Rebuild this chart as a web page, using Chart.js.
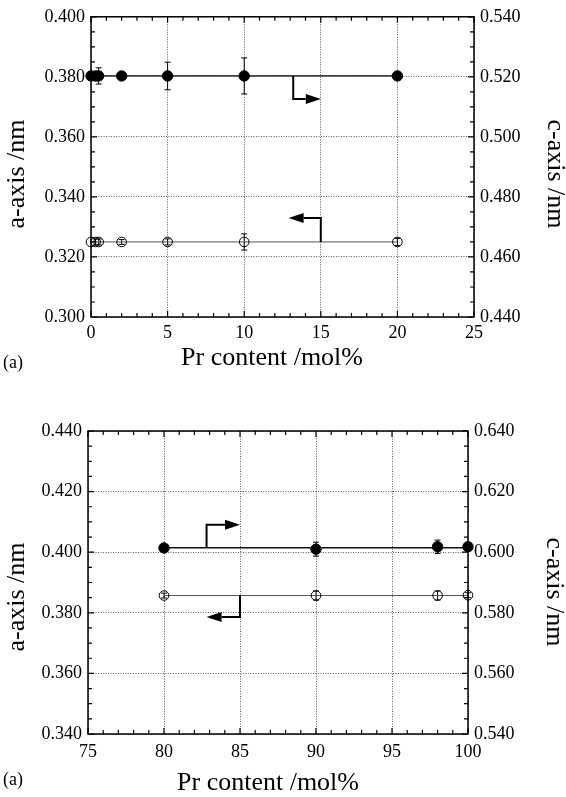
<!DOCTYPE html>
<html>
<head>
<meta charset="utf-8">
<script src="https://cdn.jsdelivr.net/npm/chart.js@4/dist/chart.umd.min.js"></script>
<style>
  html, body { margin: 0; padding: 0; background: #fff; }
  #wrap { position: relative; width: 566px; height: 797px; overflow: hidden; background: #fff; }
  canvas { position: absolute; left: 0; }
  #low { top: 0; }
  #high { top: 400px; }
</style>
</head>
<body>
<div id="wrap">
  <canvas id="low" width="566" height="400"></canvas>
  <canvas id="high" width="566" height="397"></canvas>
</div>
<script>
// ---- Pr-poor side: 0–20 mol% ----
const lowPr    = [0, 0.3, 0.5, 2, 5, 10, 20];
const lowC     = [0.5203, 0.5203, 0.5203, 0.5203, 0.5203, 0.5203, 0.5203];
const lowCErr  = [0, 0, 0.0027, 0, 0.0046, 0.006, 0];
const lowA     = [0.325, 0.325, 0.325, 0.325, 0.325, 0.325, 0.325];
const lowAErr  = [0, 0.001, 0.001, 0.0008, 0.001, 0.0027, 0.0012];
const lowFitX  = [0, 20];
const lowCFit  = [0.5203, 0.5203];
const lowAFit  = [0.325, 0.325];
const lowXTicks  = [0, 5, 10, 15, 20, 25];
const lowATicks  = [0.300, 0.320, 0.340, 0.360, 0.380, 0.400];
const lowCTicks  = [0.440, 0.460, 0.480, 0.500, 0.520, 0.540];
// L-shaped pointers telling which axis each series belongs to
const lowCArrowX = [13.2, 13.2, 15];
const lowCArrowY = [0.5203, 0.5126, 0.5126];
const lowAArrowX = [15, 15, 12.9];
const lowAArrowY = [0.325, 0.333, 0.333];

// ---- Pr-rich side: 80–100 mol% ----
const highPr    = [80, 90, 98, 100];
const highC     = [0.6014, 0.6010, 0.6018, 0.6018];
const highCErr  = [0, 0.0023, 0.0022, 0];
const highA     = [0.3857, 0.3857, 0.3857, 0.3858];
const highAErr  = [0.0008, 0.0015, 0.0015, 0.0008];
const highFitX  = [80, 100];
const highCFit  = [0.6015, 0.6015];
const highAFit  = [0.3857, 0.3857];
const highXTicks = [75, 80, 85, 90, 95, 100];
const highATicks = [0.340, 0.360, 0.380, 0.400, 0.420, 0.440];
const highCTicks = [0.540, 0.560, 0.580, 0.600, 0.620, 0.640];
const highCArrowX = [82.8, 82.8, 85];
const highCArrowY = [0.6014, 0.6091, 0.6091];
const highAArrowX = [85, 85, 82.8];
const highAArrowY = [0.3857, 0.3786, 0.3786];

const SERIF = "'Liberation Serif', 'DejaVu Serif', serif";
const tickFont = { family: SERIF, size: 18 };

const pts = (xs, ys) => xs.map((x, i) => ({ x, y: ys[i] }));

// Frame, inward ticks, error bars, axis pointers and titles
const figurePlugin = {
  id: 'figure',
  beforeDatasetsDraw(chart, args, o) {
    const ctx = chart.ctx;
    chart.data.datasets.forEach((ds, i) => {
      if (!ds.errors) return;
      const meta = chart.getDatasetMeta(i);
      const ys = chart.scales[ds.yAxisID];
      ctx.save();
      ctx.strokeStyle = '#000';
      ctx.lineWidth = 1;
      meta.data.forEach((pt, j) => {
        const e = ds.errors[j];
        if (!e) return;
        const v = ds.data[j].y;
        const y1 = ys.getPixelForValue(v + e);
        const y2 = ys.getPixelForValue(v - e);
        ctx.beginPath();
        ctx.moveTo(pt.x, y1); ctx.lineTo(pt.x, y2);
        ctx.moveTo(pt.x - 3, y1); ctx.lineTo(pt.x + 3, y1);
        ctx.moveTo(pt.x - 3, y2); ctx.lineTo(pt.x + 3, y2);
        ctx.stroke();
      });
      ctx.restore();
    });
  },
  afterDraw(chart, args, o) {
    const ctx = chart.ctx;
    const a = chart.chartArea;
    const xs = chart.scales.x, yl = chart.scales.y;
    ctx.save();
    // inward tick marks
    ctx.strokeStyle = '#000';
    ctx.lineWidth = 1.2;
    ctx.beginPath();
    const xStep = o.xMinor, yStep = o.yMinor;
    const nx = Math.round((xs.max - xs.min) / xStep);
    for (let k = 0; k <= nx; k++) {
      const v = xs.min + k * xStep;
      const len = (k % o.xMajorEvery === 0) ? 6 : 4;
      const px = xs.getPixelForValue(v);
      ctx.moveTo(px, a.bottom); ctx.lineTo(px, a.bottom - len);
      ctx.moveTo(px, a.top); ctx.lineTo(px, a.top + len);
    }
    const ny = Math.round((yl.max - yl.min) / yStep);
    for (let k = 0; k <= ny; k++) {
      const v = yl.min + k * yStep;
      const len = (k % o.yMajorEvery === 0) ? 6 : 4;
      const py = yl.getPixelForValue(v);
      ctx.moveTo(a.left, py); ctx.lineTo(a.left + len, py);
      ctx.moveTo(a.right, py); ctx.lineTo(a.right - len, py);
    }
    ctx.stroke();
    // frame
    ctx.lineWidth = 1.5;
    ctx.strokeRect(a.left, a.top, a.right - a.left, a.bottom - a.top);

    // L-shaped pointers with arrow heads
    o.arrows.forEach(ar => {
      const ys = chart.scales[ar.axis];
      const P = ar.xs.map((x, i) => [xs.getPixelForValue(x), ys.getPixelForValue(ar.ys[i])]);
      const n = P.length;
      const [tx, ty] = P[n - 1];
      const [bx, by] = P[n - 2];
      const dx = tx - bx, dy = ty - by;
      const L = Math.hypot(dx, dy), ux = dx / L, uy = dy / L;
      const hl = 15, hw = 5;
      const baseX = tx - ux * hl, baseY = ty - uy * hl;
      ctx.strokeStyle = '#000';
      ctx.lineWidth = 2;
      ctx.beginPath();
      ctx.moveTo(P[0][0], P[0][1]);
      for (let i = 1; i < n - 1; i++) ctx.lineTo(P[i][0], P[i][1]);
      ctx.lineTo(baseX, baseY);
      ctx.stroke();
      ctx.fillStyle = '#000';
      ctx.beginPath();
      ctx.moveTo(tx, ty);
      ctx.lineTo(baseX - uy * hw, baseY + ux * hw);
      ctx.lineTo(baseX + uy * hw, baseY - ux * hw);
      ctx.closePath();
      ctx.fill();
    });

    // axis titles and panel tag
    ctx.fillStyle = '#000';
    ctx.textBaseline = 'middle';
    ctx.font = `26px ${SERIF}`;
    ctx.textAlign = 'center';
    ctx.fillText(o.xTitle.text, o.xTitle.x, o.xTitle.y);
    ctx.save();
    ctx.translate(o.yTitle.x, o.yTitle.y);
    ctx.rotate(-Math.PI / 2);
    ctx.fillText(o.yTitle.text, 0, 0);
    ctx.restore();
    ctx.save();
    ctx.translate(o.y2Title.x, o.y2Title.y);
    ctx.rotate(Math.PI / 2);
    ctx.fillText(o.y2Title.text, 0, 0);
    ctx.restore();
    ctx.font = `18px ${SERIF}`;
    ctx.textAlign = 'left';
    ctx.fillText(o.tag.text, o.tag.x, o.tag.y);
    ctx.restore();
  }
};

function makeChart(id, cfg) {
  const gridStyle = { color: '#333', lineWidth: 0.8, drawTicks: false };
  const border = { display: false, dash: [1, 1.5] };
  return new Chart(document.getElementById(id), {
    type: 'scatter',
    data: {
      datasets: [
        {
          label: 'c', data: pts(cfg.x, cfg.c), errors: cfg.cErr, yAxisID: 'y2',
          showLine: false, pointStyle: 'circle', pointRadius: 5.2,
          pointBackgroundColor: '#000', pointBorderColor: '#000', pointBorderWidth: 1, clip: false
        },
        {
          label: 'a', data: pts(cfg.x, cfg.a), errors: cfg.aErr, yAxisID: 'y',
          showLine: false, pointStyle: 'circle', pointRadius: 4.8,
          pointBackgroundColor: 'rgba(0,0,0,0)', pointBorderColor: '#000', pointBorderWidth: 1, clip: false
        },
        {
          label: 'c fit', data: pts(cfg.fitX, cfg.cFit), yAxisID: 'y2', showLine: true,
          pointRadius: 0, borderColor: cfg.cLineColor, borderWidth: cfg.cLineWidth, clip: false
        },
        {
          label: 'a fit', data: pts(cfg.fitX, cfg.aFit), yAxisID: 'y', showLine: true,
          pointRadius: 0, borderColor: '#555', borderWidth: 1, clip: false
        }
      ]
    },
    options: {
      responsive: false,
      animation: false,
      devicePixelRatio: 1,
      layout: { padding: { top: cfg.top, left: 0, right: 0, bottom: 0 } },
      plugins: {
        legend: { display: false },
        tooltip: { enabled: false },
        figure: {
          xMinor: 1, xMajorEvery: 5, yMinor: 0.005, yMajorEvery: 4,
          arrows: cfg.arrows,
          xTitle: cfg.xTitle, yTitle: cfg.yTitle, y2Title: cfg.y2Title, tag: cfg.tag
        }
      },
      scales: {
        x: {
          type: 'linear', min: cfg.xTicks[0], max: cfg.xTicks[cfg.xTicks.length - 1],
          afterBuildTicks: s => { s.ticks = cfg.xTicks.map(v => ({ value: v })); },
          afterFit: s => { s.height = cfg.xHeight; },
          grid: gridStyle, border,
          ticks: { font: tickFont, color: '#000', padding: cfg.xPad, maxRotation: 0, autoSkip: false,
                   callback: v => String(v) }
        },
        y: {
          type: 'linear', position: 'left', min: cfg.aTicks[0], max: cfg.aTicks[cfg.aTicks.length - 1],
          afterBuildTicks: s => { s.ticks = cfg.aTicks.map(v => ({ value: v })); },
          afterFit: s => { s.width = cfg.leftW; },
          grid: gridStyle, border,
          ticks: { font: tickFont, color: '#000', padding: 6, callback: v => v.toFixed(3) }
        },
        y2: {
          type: 'linear', position: 'right', min: cfg.cTicks[0], max: cfg.cTicks[cfg.cTicks.length - 1],
          afterBuildTicks: s => { s.ticks = cfg.cTicks.map(v => ({ value: v })); },
          afterFit: s => { s.width = cfg.rightW; },
          grid: { display: false, drawTicks: false }, border: { display: false },
          ticks: { font: tickFont, color: '#000', padding: 6, callback: v => v.toFixed(3) }
        }
      }
    },
    plugins: [figurePlugin]
  });
}

makeChart('low', {
  x: lowPr, c: lowC, cErr: lowCErr, a: lowA, aErr: lowAErr,
  fitX: lowFitX, cFit: lowCFit, aFit: lowAFit,
  xTicks: lowXTicks, aTicks: lowATicks, cTicks: lowCTicks,
  cLineColor: '#444', cLineWidth: 1.8,
  top: 14, xHeight: 83, leftW: 91, rightW: 92, xPad: 5,
  arrows: [
    { xs: lowCArrowX, ys: lowCArrowY, axis: 'y2' },
    { xs: lowAArrowX, ys: lowAArrowY, axis: 'y' }
  ],
  xTitle: { text: 'Pr content /mol%', x: 272, y: 358 },
  yTitle: { text: 'a-axis /nm', x: 17, y: 174 },
  y2Title: { text: 'c-axis /nm', x: 555, y: 174 },
  tag: { text: '(a)', x: 3, y: 363 }
});

makeChart('high', {
  x: highPr, c: highC, cErr: highCErr, a: highA, aErr: highAErr,
  fitX: highFitX, cFit: highCFit, aFit: highAFit,
  xTicks: highXTicks, aTicks: highATicks, cTicks: highCTicks,
  cLineColor: '#111', cLineWidth: 1.5,
  top: 31, xHeight: 63, leftW: 88, rightW: 98, xPad: 7.5,
  arrows: [
    { xs: highCArrowX, ys: highCArrowY, axis: 'y2' },
    { xs: highAArrowX, ys: highAArrowY, axis: 'y' }
  ],
  xTitle: { text: 'Pr content /mol%', x: 268, y: 383 },
  yTitle: { text: 'a-axis /nm', x: 17, y: 197 },
  y2Title: { text: 'c-axis /nm', x: 554, y: 192 },
  tag: { text: '(a)', x: 3, y: 380 }
});
</script>
</body>
</html>
